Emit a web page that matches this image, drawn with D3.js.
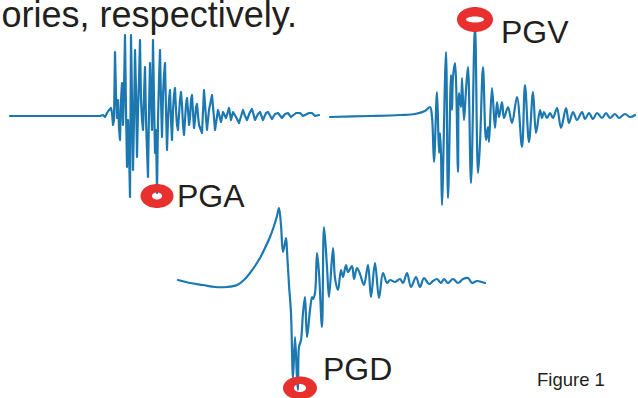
<!DOCTYPE html>
<html><head><meta charset="utf-8">
<script src="https://cdn.jsdelivr.net/npm/d3@7"></script>
<style>html,body{margin:0;padding:0;background:#fff;overflow:hidden}</style>
</head><body>
<svg id="c" width="638" height="398"></svg>
<script>
// ---- Data (time in samples, amplitude in arbitrary units) ----
const pgaT = [0,90,93,95,97,99,101,102,103,104,105,106,107,108,109,110,111,112,113,114,115,116,117,118,119,120,121,122,123,124,125,126,127,128,129,130,131,132,133,134,135,136,137,138,139,140,141,142,143,144,145,146,147,148,149,150,151,152,153,154,155,156,157,158,159,160,161,162,163,164,165,166,167,168,169,170,171,172,173,174,175,176,177,178,179,180,181,182,183,184,185,186,187,188,189,192,194,196,197,199,202,204,205,208,211,213,216,219,221,223,226,229,233,235,237,240,242,245,248,250,253,256,258,262,265,268,272,275,278,281,286,290,293,299,302,305,309];
const pgaV = [0,0,1,-1,3,6,8,3,-9,-4,64,21,-2,16,-12,-24,16,33,-9,26,81,6,-51,-4,-34,-81,81,16,-54,-4,66,26,-41,6,36,76,16,-4,-14,21,49,-4,-34,-61,6,53,16,-14,76,16,-37,-14,-77,-4,36,66,16,-21,21,41,53,6,-34,-4,16,26,-4,-24,6,21,28,6,-9,-14,1,16,24,11,-9,-19,-4,11,18,6,-9,-2,16,21,4,-12,-4,9,12,1,-9,-17,26,-2,-14,6,21,-2,-14,6,-6,4,-2,8,-4,4,-1,-7,6,0,-4,4,7,-4,2,4,-4,3,4,-3,2,3,-2,2,3,-1,3,3,0,3,3,0,1];

const pgvT = [0,40,70,85,95,100,102,104,107,109,110,111,112,116,118,121,122,123,125,128,129,131,132,134,136,138,141,145,148,150,153,156,158,159,162,165,167,169,172,174,178,182,187,192,195,199,203,206,210,212,214,217,220,223,227,231,236,239,243,247,252,255,259,263,267,272,276,280,285,289,295,300,305];
const pgvV = [0,1,2,3,6,10,0,-45,25,-36,-16,-36,-88,65,-81,42,7,40,54,-55,24,10,39,-3,27,50,-66,92,-56,-26,50,-23,-10,-25,29,-11,15,0,15,-1,10,-6,20,-30,32,-25,25,-16,7,-1,5,-1,4,-1,9,-11,9,-6,5,-3,5,-2,4,-2,4,-1,4,-1,3,-1,3,0,2];

const pgdT = [0,12,25,37,49,59,67,72,77,82,87,92,96,99,101,103,105,108,109,111,113,115,117,119,120,121,123,125,127,129,132,134,135,137,139,141,144,146,149,151,155,157,160,163,165,168,170,174,176,179,182,186,190,193,197,201,205,209,212,217,222,225,229,233,238,242,246,251,255,259,263,266,270,275,280,285,290,294,299,304,307];
const pgdV = [0,-3,-5,-7,-7,-5,1,7,14,22,32,43,54,64,72,55,28,42,29,-5,-33,-98,-57,-98,-110,-67,-60,-33,-17,-57,-30,-17,-19,-13,27,7,-47,53,13,-17,32,2,-10,10,3,15,8,14,1,12,6,-5,15,-17,17,-18,7,-3,0,-2,1,-3,7,-7,3,-7,2,-4,-1,1,-3,1,-3,1,-3,1,2,-3,-1,-2,-3];

// peak markers (time, amplitude) and labels
const markerNames = ["PGA", "PGV", "PGD"];
const markerT = [147, 145, 122];
const markerV = [-80, 97.5, -108];

const headerText = "ories, respectively.";
const figureText = "Figure 1";

// ---- Drawing ----
const svg = d3.select("#c");
const blue = "#1b78b1", red = "#e8302f", ink = "#231f20";

const panels = [
  {t: pgaT, v: pgaV, x0: 10,  span: 309, base: 116, curve: d3.curveLinear,
   ring: {rx: 16.5, ry: 12, irx: 5, iry: 3.5}, label: [177, 207]},
  {t: pgvT, v: pgvV, x0: 330, span: 305, base: 117, curve: d3.curveCatmullRom.alpha(0.5),
   ring: {rx: 18, ry: 12.5, irx: 9, iry: 3}, label: [501, 43]},
  {t: pgdT, v: pgdV, x0: 178, span: 307, base: 280, curve: d3.curveCatmullRom.alpha(0.5),
   ring: {rx: 17, ry: 11.5, irx: 6, iry: 4}, label: [323, 380]}
];

function ringPath(cx, cy, r) {
  const p = d3.path();
  const e = (rx, ry) => {
    p.moveTo(cx + rx, cy);
    for (let k = 1; k <= 72; k++) {
      const a = k / 72 * 2 * Math.PI;
      p.lineTo(cx + rx * Math.cos(a), cy + ry * Math.sin(a));
    }
    p.closePath();
  };
  e(r.rx, r.ry); e(r.irx, r.iry);
  return p.toString();
}

panels.forEach((pn, i) => {
  const x = d3.scaleLinear().domain([0, pn.span]).range([pn.x0, pn.x0 + pn.span]);
  const y = d3.scaleLinear().domain([-120, 120]).range([pn.base + 120, pn.base - 120]);
  const pts = pn.t.map((t, k) => [t, pn.v[k]]);
  const line = d3.line().x(d => x(d[0])).y(d => y(d[1])).curve(pn.curve);
  svg.append("path").datum(pts).attr("d", line)
    .attr("fill", "none").attr("stroke", blue).attr("stroke-width", 2.2)
    .attr("stroke-linejoin", "round").attr("stroke-linecap", "round");
  svg.append("path").attr("d", ringPath(x(markerT[i]), y(markerV[i]), pn.ring))
    .attr("fill", red).attr("fill-rule", "evenodd");
  svg.append("text").attr("x", pn.label[0]).attr("y", pn.label[1])
    .attr("font-family", "Liberation Sans, Arial, sans-serif").attr("font-size", 32)
    .attr("fill", ink).text(markerNames[i]);
});

svg.append("text").attr("x", 297).attr("y", 27).attr("text-anchor", "end")
  .attr("font-family", "Liberation Sans, Arial, sans-serif").attr("font-size", 36)
  .attr("fill", ink).text(headerText);
svg.append("text").attr("x", 537).attr("y", 386)
  .attr("font-family", "Liberation Sans, Arial, sans-serif").attr("font-size", 18.5)
  .attr("fill", ink).text(figureText);
</script>
</body></html>
